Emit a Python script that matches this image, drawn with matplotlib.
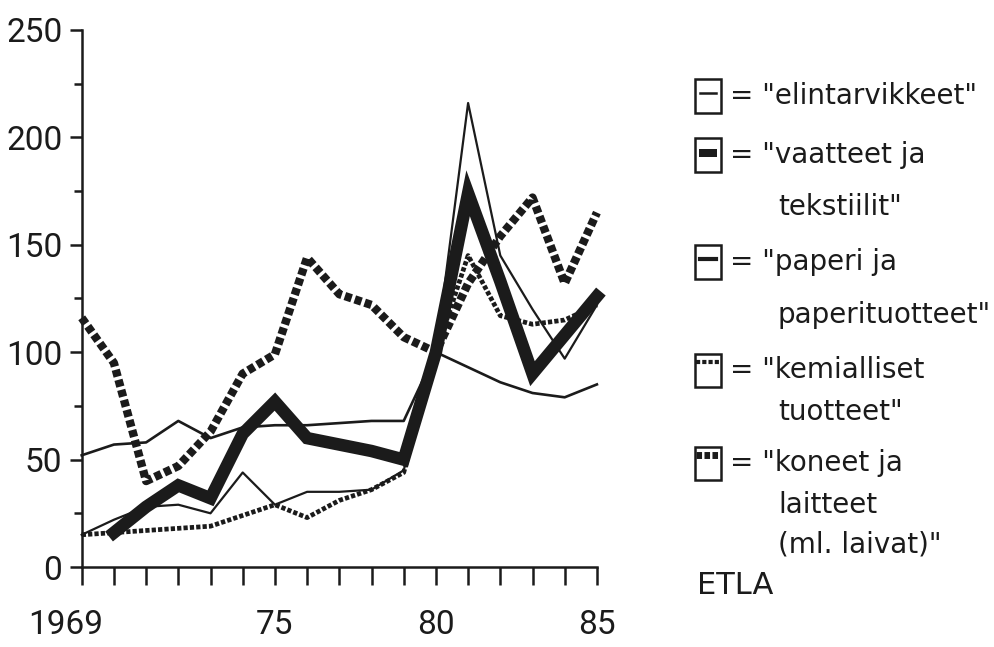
import numpy as np
import matplotlib
matplotlib.use('Agg')
import matplotlib.pyplot as plt
from matplotlib.patches import Rectangle
from matplotlib.lines import Line2D
from matplotlib.transforms import ScaledTranslation

# ---------------- data ----------------
years = list(range(1969, 1986))
elintarvikkeet = [52, 57, 58, 68, 60, 65, 66, 66, 67, 68, 68, 100, 93, 86, 81, 79, 85]
vaatteet = [np.nan, 16, 28, 38, 32, 62, 77, 60, 57, 54, 50, 100, 174, 133, 90, 108, 126]
paperi = [15, 22, 28, 29, 25, 44, 29, 35, 35, 36, 45, 100, 216, 145, 120, 97, 122]
kemialliset = [15, 16, 17, 18, 19, 24, 29, 23, 31, 36, 44, 100, 145, 117, 113, 115, 122]
koneet = [116, 95, 40, 47, 63, 90, 99, 144, 127, 122, 107, 100, 132, 154, 172, 132, 165]

tick_years = [1969, 1975, 1980, 1985]
tick_labels = ['1969', '75', '80', '85']
y_major = [0, 50, 100, 150, 200, 250]
y_minor = [25, 75, 125, 175, 225]

legend_first = ['= "elintarvikkeet"', '= "vaatteet ja', '= "paperi ja',
                '= "kemialliset', '= "koneet ja']
legend_more = [[], ['tekstiilit"'], ['paperituotteet"'], ['tuotteet"'],
               ['laitteet', '(ml. laivat)"']]
source_text = 'ETLA'

# ---------------- styling ----------------
INK = '#1b1b1b'
W, H = 995, 647
TICKFONT = ['Roboto', 'DejaVu Sans']
LEGFONT = ['DejaVu Sans']

fig = plt.figure(figsize=(W / 100, H / 100), dpi=100)
fig.patch.set_facecolor('white')
ax = fig.add_axes([81.7 / W, 80 / H, 515.2 / W, 537 / H])

styles = {
    'koneet': dict(lw=6.0, ls=(0, (0.85, 0.4)), dash_capstyle='butt'),
    'kemialliset': dict(lw=3.4, ls=(0, (0.9, 0.45)), dash_capstyle='butt'),
    'elintarvikkeet': dict(lw=1.9, ls='-'),
    'paperi': dict(lw=1.6, ls='-'),
    'vaatteet': dict(lw=9.0, ls='-', solid_joinstyle='miter'),
}
series = {'koneet': koneet, 'kemialliset': kemialliset,
          'elintarvikkeet': elintarvikkeet, 'paperi': paperi,
          'vaatteet': vaatteet}
for name, vals in series.items():
    ax.plot(years, vals, color=INK, clip_on=False, **styles[name])

ax.set_xlim(1969, 1985)
ax.set_ylim(0, 250)
for s in ('top', 'right'):
    ax.spines[s].set_visible(False)
for s in ('left', 'bottom'):
    ax.spines[s].set_linewidth(1.8)
    ax.spines[s].set_color(INK)

ax.set_xticks(years)
ax.set_xticklabels([tick_labels[tick_years.index(y)] if y in tick_years else ''
                    for y in years])
ax.set_yticks(y_major)
ax.set_yticks(y_minor, minor=True)
ax.set_yticklabels([str(v) for v in y_major])
ax.tick_params(axis='x', direction='out', length=13, width=1.8, pad=17,
               color=INK, labelcolor=INK, labelsize=24)
ax.tick_params(axis='y', which='major', direction='out', length=9, width=1.8,
               pad=5, color=INK, labelcolor=INK, labelsize=24)
ax.tick_params(axis='y', which='minor', direction='out', length=6, width=1.8,
               color=INK)
for lab in ax.get_xticklabels() + ax.get_yticklabels():
    lab.set_family(TICKFONT)
first = ax.get_xticklabels()[0]
first.set_transform(first.get_transform() +
                    ScaledTranslation(-0.16, 0, fig.dpi_scale_trans))

# ---------------- legend (hand drawn boxes) ----------------
def fx(px):
    return px / W

def fy(py):
    return 1 - py / H

box_x0, box_w, box_h = 695, 26, 33
box_centers = [96, 155, 262, 370, 463]
more_y = [[], [207], [315], [412], [505, 545]]
for i, cy in enumerate(box_centers):
    fig.patches.append(Rectangle((fx(box_x0), fy(cy + box_h / 2)), box_w / W, box_h / H,
                                 transform=fig.transFigure, fill=False,
                                 lw=1.8, ec=INK))
    if i == 0:
        xs = [box_x0 + 5, box_x0 + box_w - 5]; ys = [cy - 3, cy - 3]
        fig.lines.append(Line2D([fx(x) for x in xs], [fy(y) for y in ys],
                                transform=fig.transFigure, color=INK, lw=1.8))
    elif i == 1:
        fig.patches.append(Rectangle((fx(box_x0 + 4), fy(cy + 2)), (box_w - 8) / W, 8 / H,
                                     transform=fig.transFigure, color=INK, lw=0))
    elif i == 2:
        xs = [box_x0 + 5, box_x0 + box_w - 5]; ys = [cy - 3, cy - 3]
        fig.lines.append(Line2D([fx(x) for x in xs], [fy(y) for y in ys],
                                transform=fig.transFigure, color=INK, lw=3.0))
    elif i == 3:
        xs = [box_x0 + 1, box_x0 + box_w - 1]; ys = [cy - 8, cy - 8]
        fig.lines.append(Line2D([fx(x) for x in xs], [fy(y) for y in ys],
                                transform=fig.transFigure, color=INK, lw=3.0,
                                ls=(0, (1, 0.5)), dash_capstyle='butt'))
    else:
        xs = [box_x0 + 1, box_x0 + box_w - 1]; ys = [cy - 8, cy - 8]
        fig.lines.append(Line2D([fx(x) for x in xs], [fy(y) for y in ys],
                                transform=fig.transFigure, color=INK, lw=5.0,
                                ls=(0, (0.8, 0.35)), dash_capstyle='butt'))
    fig.text(fx(730), fy(cy), legend_first[i], ha='left', va='center',
             fontsize=20, family=LEGFONT, color=INK)
    for txt, yy in zip(legend_more[i], more_y[i]):
        fig.text(fx(778), fy(yy), txt, ha='left', va='center',
                 fontsize=20, family=LEGFONT, color=INK)

fig.text(fx(697), fy(585), source_text, ha='left', va='center',
         fontsize=22, family=LEGFONT, color=INK)

fig.savefig('out.png', dpi=100, facecolor='white')
